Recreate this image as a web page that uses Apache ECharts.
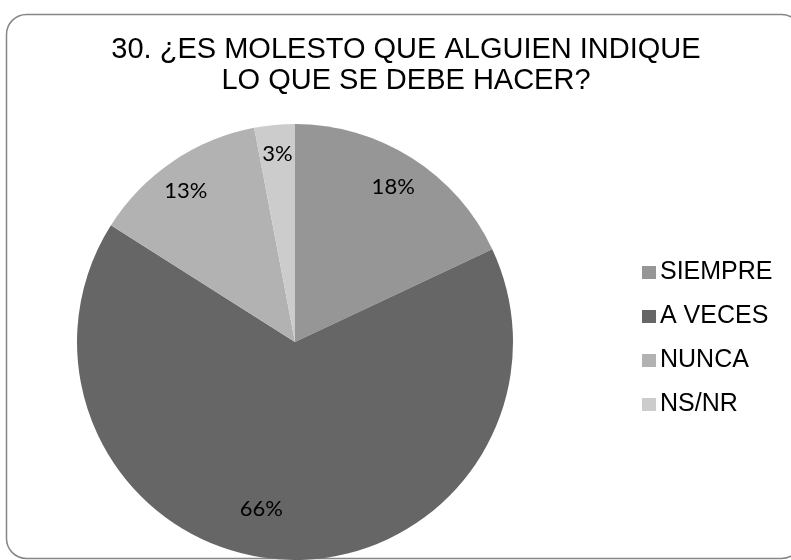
<!DOCTYPE html>
<html>
<head>
<meta charset="utf-8">
<script src="https://cdn.jsdelivr.net/npm/echarts@6/dist/echarts.min.js"></script>
<style>
  html, body { margin: 0; padding: 0; background: #fff; }
  #chart { width: 791px; height: 560px; }
</style>
</head>
<body>
<div id="chart"></div>
<script>
// data
var categories = ['SIEMPRE', 'A VECES', 'NUNCA', 'NS/NR'];
var values = [18, 66, 13, 3];
var colors = ['#969696', '#666666', '#b2b2b2', '#cccccc'];
var titleText = '30. ¿ES MOLESTO QUE ALGUIEN INDIQUE\nLO QUE SE DEBE HACER?';

// small nudges so labels sit where Excel put them
var labelShift = [[-2, 3], [-22, -20], [-4, 4], [0, -2]];

var chart = echarts.init(document.getElementById('chart'));

var pieData = categories.map(function (name, i) {
  return { name: name, value: values[i], itemStyle: { color: colors[i] } };
});

chart.setOption({
  animation: false,
  graphic: [
    {
      type: 'rect',
      shape: { x: 6.5, y: 14.5, width: 795, height: 544, r: 20 },
      style: { fill: 'none', stroke: '#868686', lineWidth: 1.5 },
      silent: true
    },
    {
      type: 'text',
      x: 406,
      y: 34,
      style: {
        text: titleText,
        fontFamily: 'Liberation Sans, Arial, sans-serif',
        fontSize: 29,
        lineHeight: 31,
        fill: '#000',
        align: 'center',
        verticalAlign: 'top'
      }
    }
  ],
  legend: {
    orient: 'vertical',
    left: 637,
    top: 255,
    itemWidth: 14,
    itemHeight: 13,
    itemGap: 19,
    icon: 'rect',
    data: categories,
    textStyle: {
      fontFamily: 'Liberation Sans, Arial, sans-serif',
      fontSize: 25,
      color: '#000',
      padding: [0, 0, 0, -1]
    }
  },
  series: [
    {
      name: 'main',
      type: 'pie',
      center: [295, 342],
      radius: 218,
      startAngle: 90,
      clockwise: true,
      label: { show: false },
      labelLine: { show: false },
      silent: true,
      data: pieData
    },
    {
      name: 'labels',
      type: 'pie',
      center: [295, 342],
      radius: [150, 218],
      startAngle: 90,
      clockwise: true,
      silent: true,
      itemStyle: { color: 'rgba(0,0,0,0)' },
      label: {
        show: true,
        position: 'inside',
        formatter: '{d}%',
        fontFamily: 'Lato, Open Sans, sans-serif',
        fontSize: 22,
        color: '#000'
      },
      labelLayout: function (params) {
        var s = labelShift[params.dataIndex];
        return { dx: s[0], dy: s[1] };
      },
      labelLine: { show: false },
      data: categories.map(function (name, i) {
        return { name: name + ' ', value: values[i] };
      })
    }
  ]
});
</script>
</body>
</html>
